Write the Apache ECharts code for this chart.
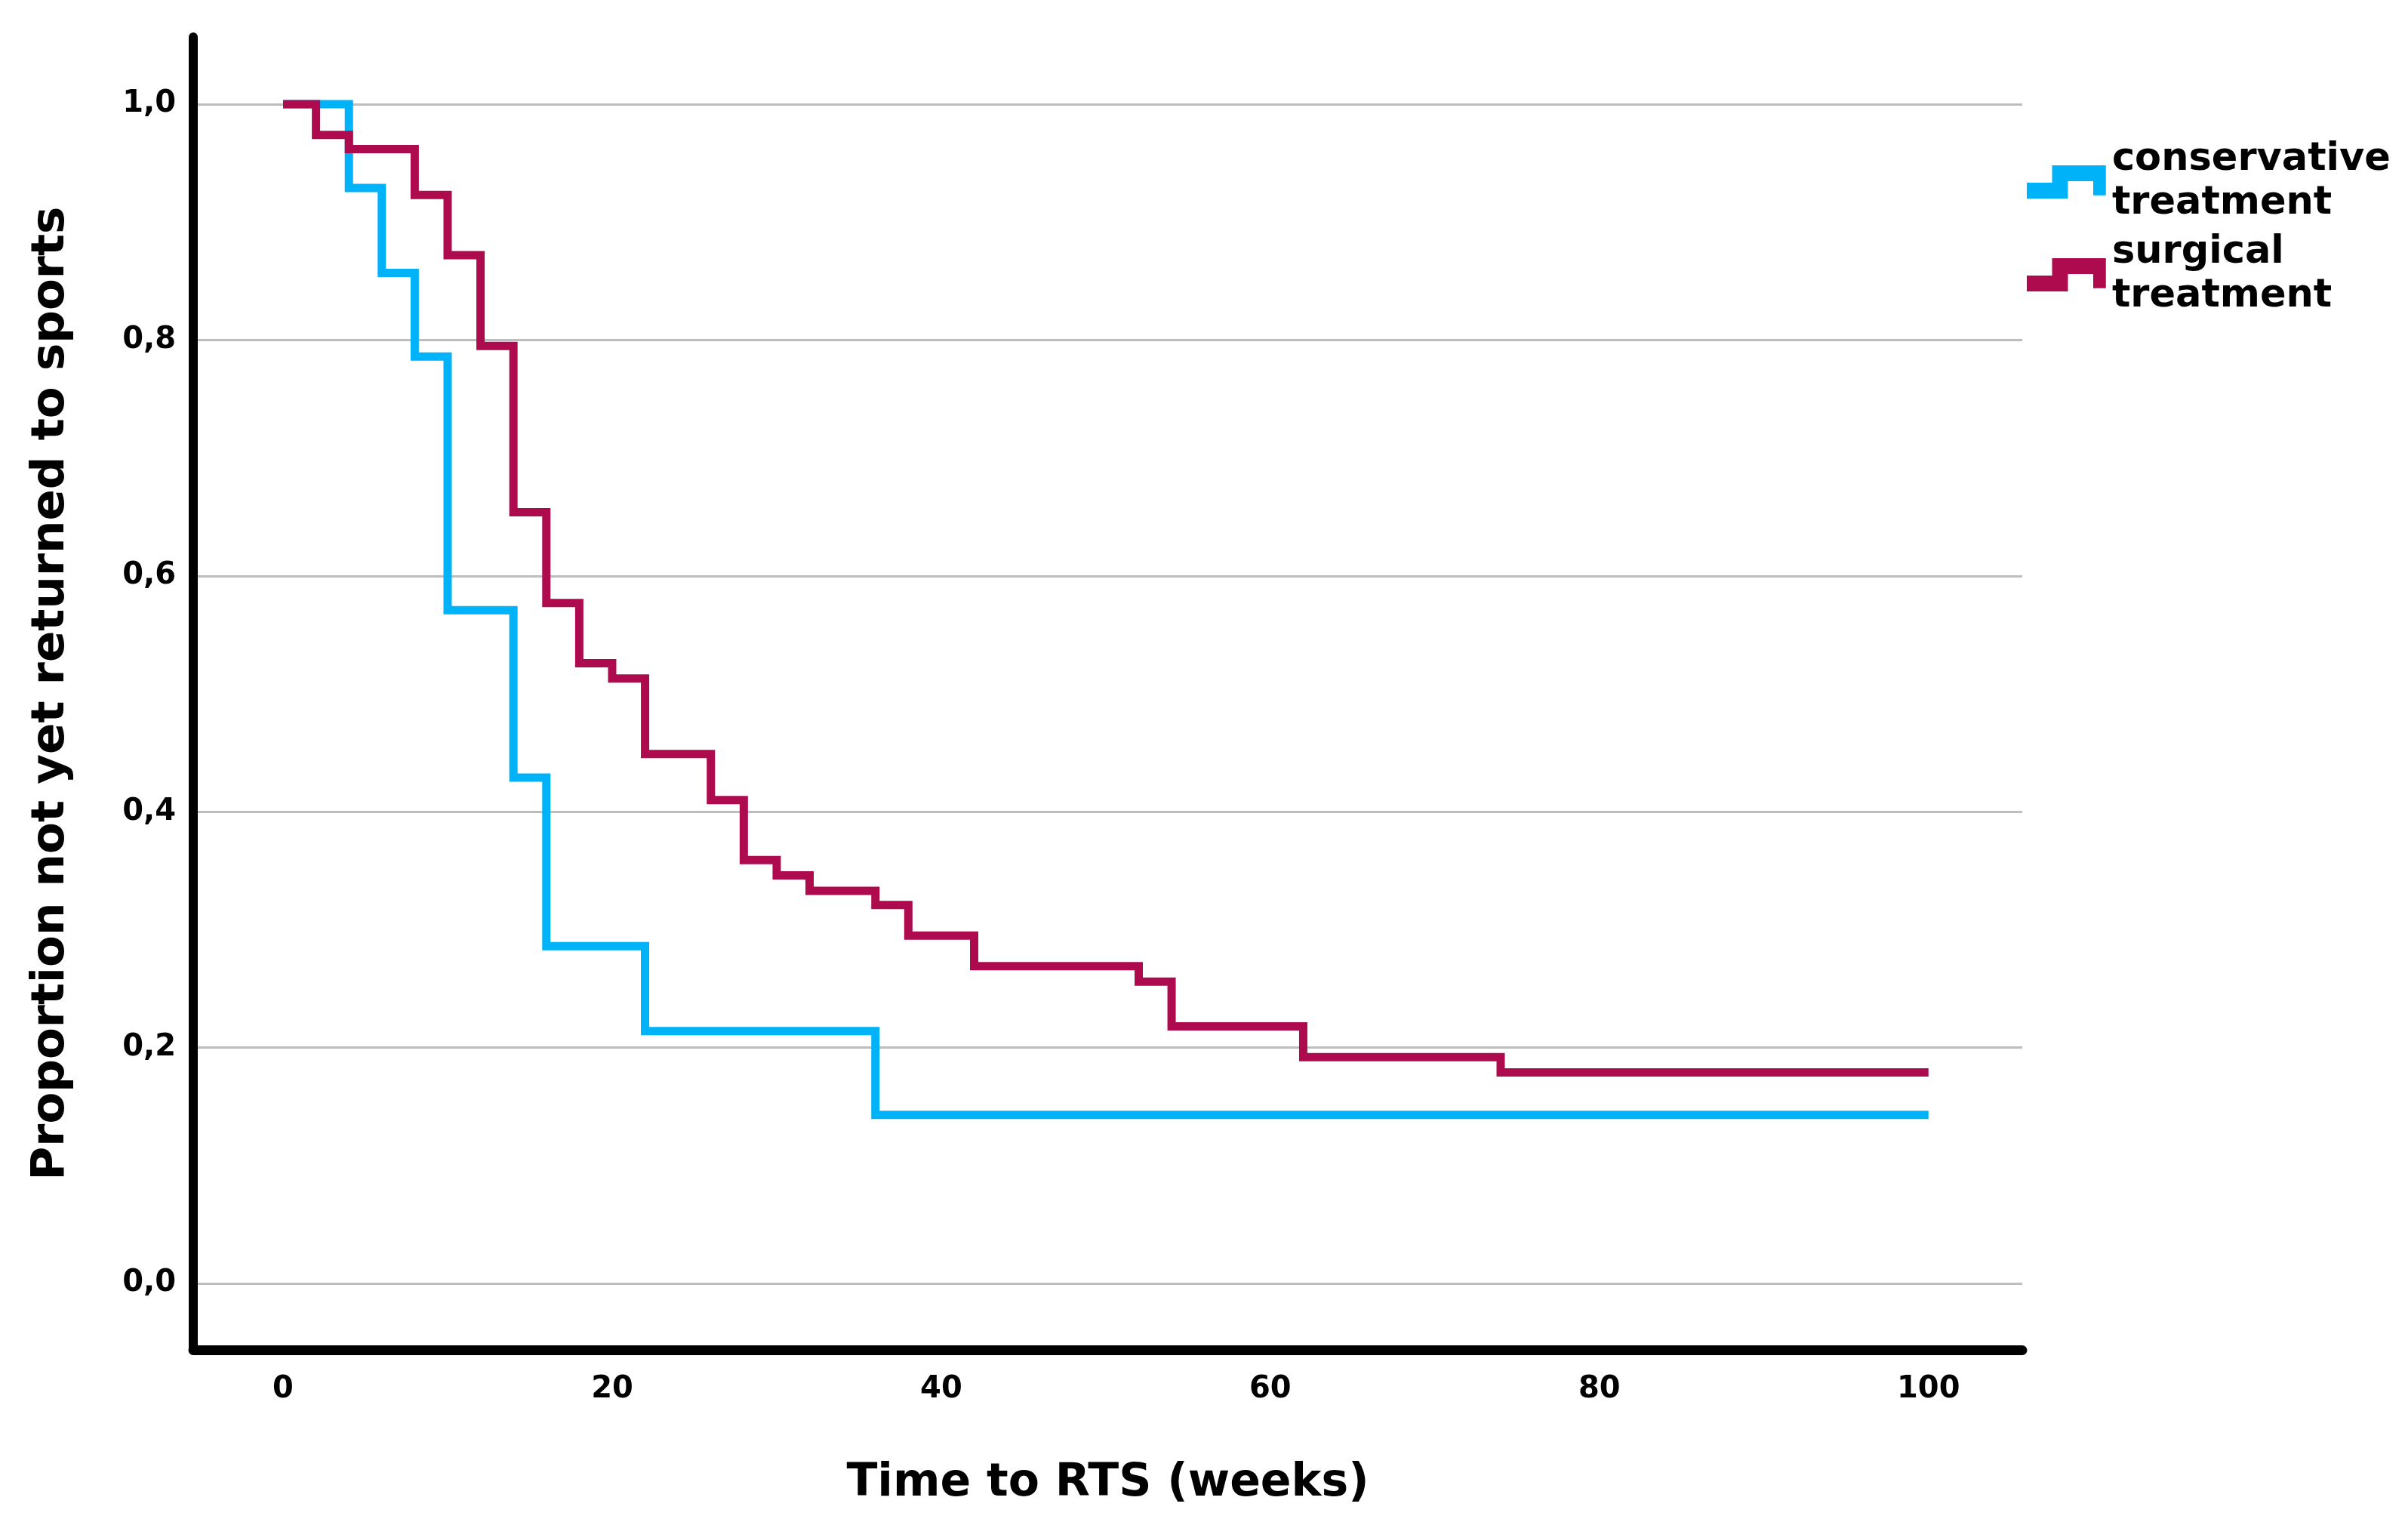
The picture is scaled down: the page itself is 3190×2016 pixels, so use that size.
<!DOCTYPE html>
<html>
<head>
<meta charset="utf-8">
<script src="https://cdn.jsdelivr.net/npm/echarts@6/dist/echarts.min.js"></script>
<style>
html,body{margin:0;padding:0;background:#fff;}
#chart{width:3190px;height:2016px;}
</style>
</head>
<body>
<div id="chart"></div>
<script>
// Kaplan-Meier step data: [time (weeks), proportion not yet returned]
const conservativeTimes = [0, 4, 6, 8, 10, 14, 16, 22, 36, 100];
const conservativeValues = [1.0, 0.929, 0.857, 0.786, 0.571, 0.429, 0.286, 0.214, 0.143, 0.143];
const surgicalTimes = [0, 2, 4, 8, 10, 12, 14, 16, 18, 20, 22, 26, 28, 30, 32, 36, 38, 42, 52, 54, 62, 74, 100];
const surgicalValues = [1.0, 0.974, 0.962, 0.923, 0.872, 0.795, 0.654, 0.577, 0.526, 0.513, 0.449, 0.410, 0.359, 0.346, 0.333, 0.321, 0.295, 0.269, 0.256, 0.218, 0.192, 0.179, 0.179];
const seriesNames = ['conservative\ntreatment', 'surgical\ntreatment'];
const xTicks = [0, 20, 40, 60, 80, 100];
const yTicks = [0, 0.2, 0.4, 0.6, 0.8, 1.0];
const xTitle = 'Time to RTS (weeks)';
const yTitle = 'Proportion not yet returned to sports';

const pair = (t, v) => t.map((x, i) => [x, v[i]]);
const FONT = 'DejaVu Sans';
const iconPath = 'path://M0,22 L32,22 L32,0 L100,0 L100,38 L84,38 L84,20 L52,20 L52,42 L0,42 Z';

const chart = echarts.init(document.getElementById('chart'), null, {renderer: 'canvas'});
chart.setOption({
  animation: false,
  backgroundColor: '#ffffff',
  textStyle: {fontFamily: FONT},
  grid: {left: 256, right: 511, top: 49, bottom: 228, containLabel: false},
  legend: {
    orient: 'vertical',
    left: 2680,
    top: 178,
    itemWidth: 107,
    itemHeight: 44,
    itemGap: 7,
    icon: iconPath,
    itemStyle: {borderWidth: 0},
    textStyle: {fontFamily: FONT, fontSize: 51, fontWeight: 'bold', color: '#000', lineHeight: 58, padding: [0, 0, 0, 2]},
    data: seriesNames
  },
  xAxis: {
    type: 'value',
    min: -5.46,
    max: 105.7,
    name: xTitle,
    nameLocation: 'middle',
    nameGap: 147,
    nameTextStyle: {fontFamily: FONT, fontSize: 60, fontWeight: 'bold', color: '#000'},
    axisLine: {show: true, onZero: false, lineStyle: {color: '#000', width: 13}},
    axisTick: {show: false, customValues: xTicks},
    axisLabel: {customValues: xTicks, margin: 33, fontFamily: FONT, fontSize: 40, fontWeight: 'bold', color: '#000'},
    splitLine: {show: false}
  },
  yAxis: {
    type: 'value',
    min: -0.0563,
    max: 1.057,
    name: yTitle,
    nameLocation: 'middle',
    nameGap: 157,
    nameRotate: 90,
    nameTextStyle: {fontFamily: FONT, fontSize: 61, fontWeight: 'bold', color: '#000'},
    axisLine: {show: true, onZero: false, lineStyle: {color: '#000', width: 12}},
    axisTick: {show: false, customValues: yTicks},
    axisLabel: {customValues: yTicks, margin: 23, fontFamily: FONT, fontSize: 40, fontWeight: 'bold', color: '#000',
      formatter: v => v.toFixed(1).replace('.', ',')},
    splitLine: {show: true, lineStyle: {color: '#bdbdbd', width: 3}}
  },
  series: [
    {
      name: seriesNames[0],
      type: 'line',
      step: 'end',
      showSymbol: false,
      symbol: 'none',
      color: '#00b2f8',
      lineStyle: {width: 11, color: '#00b2f8', cap: 'butt', join: 'miter'},
      data: pair(conservativeTimes, conservativeValues)
    },
    {
      name: seriesNames[1],
      type: 'line',
      step: 'end',
      showSymbol: false,
      symbol: 'none',
      color: '#ae0b4f',
      lineStyle: {width: 11, color: '#ae0b4f', cap: 'butt', join: 'miter'},
      data: pair(surgicalTimes, surgicalValues)
    }
  ]
});
</script>
</body>
</html>
